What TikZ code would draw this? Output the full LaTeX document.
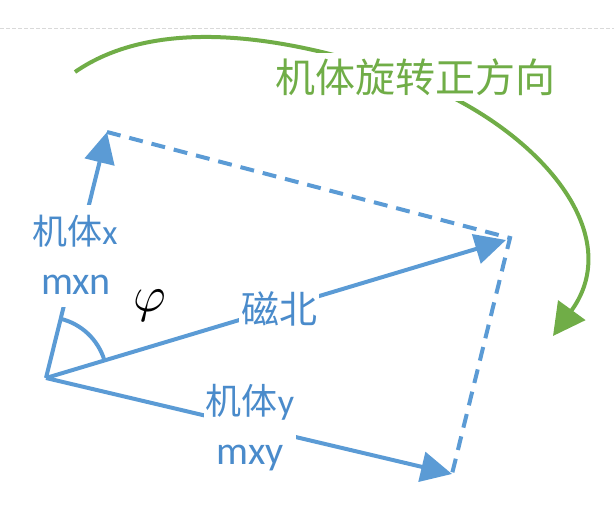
\documentclass[tikz,border=0pt]{standalone}
\usepackage{fontspec}
\usepackage{graphicx}
\setmainfont{Carlito}
\newfontfamily\cjk{Noto Sans CJK SC}
\usetikzlibrary{arrows.meta}
\definecolor{pblue}{HTML}{5B9BD5}
\definecolor{ptxt}{HTML}{4A8BCB}
\definecolor{pgreen}{HTML}{70AD47}
\definecolor{pgray}{HTML}{D9D9D9}
\begin{document}
\begin{tikzpicture}[x=1pt,y=1pt,
  vec/.style={pblue, line width=4pt, -{Triangle[length=31pt,width=30pt]}},
  dsh/.style={pblue, line width=4pt, dash pattern=on 14pt off 9pt},
  lbl/.style={text=ptxt, fill=white, inner xsep=2pt, inner ysep=8pt},
  rot/.style={pgreen, line width=4pt, -{Triangle[length=32pt,width=33pt]}},
  angl/.style={pblue, line width=4pt}
]
\useasboundingbox (0,0) rectangle (614,506);
% faint dashed top line
\coordinate (gl) at (0,477);
\coordinate (gr) at (614,477);
\draw[pgray, line width=1pt, dash pattern=on 4pt off 2pt] (gl) -- (gr);

% key points
\coordinate (O) at (46,128);
\coordinate (X) at (107,374);
\coordinate (N) at (506,266);
\coordinate (Y) at (452,32);
\coordinate (C) at (510,268);

% dashed parallelogram sides
\draw[dsh] (X) -- (C) -- (Y);
% vectors
\draw[vec] (O) -- (X);
\draw[vec] (O) -- (N);
\draw[vec] (O) -- (Y);
% angle arc
\draw[angl] (60.7,187.2) arc[start angle=76.1, end angle=16.7, radius=61];

% rotation arc
\coordinate (g0) at (75,434);
\coordinate (g1) at (400,431);
\coordinate (g2) at (553,170);
\draw[rot] (g0) .. controls (150,486) and (270,476) .. (g1)
               .. controls (530,386) and (630,276) .. (g2);

% labels
\node[lbl, anchor=base, text height=32pt, text depth=4pt,
      font=\fontsize{35}{40}\selectfont] (lx) at (75,261) {{\cjk 机体}x};
\node[lbl, anchor=base, text height=30pt, text depth=4pt,
      font=\fontsize{40}{48}\selectfont] (lmxn) at (76,211) {mxn};
\node[lbl, inner ysep=2pt, font=\fontsize{38}{44}\selectfont\cjk] (ln) at (279,197) {磁北};
\node[lbl, anchor=base, inner ysep=6pt, text height=34pt, text depth=20pt,
      font=\fontsize{36}{42}\selectfont] (ly) at (250,91) {{\cjk 机体}y};
\node[lbl, anchor=base, inner ysep=4pt, text height=22pt, text depth=10pt,
      font=\fontsize{40}{48}\selectfont] (lmxy) at (250,41) {mxy};
\node[inner sep=0pt] (phi) at (150,200) {\scalebox{5}{$\varphi$}};
\node[fill=white, text=pgreen, inner xsep=4pt, inner ysep=5pt,
      font=\fontsize{40}{46}\selectfont\cjk] (lrot) at (415,429) {机体旋转正方向};
\end{tikzpicture}
\end{document}
